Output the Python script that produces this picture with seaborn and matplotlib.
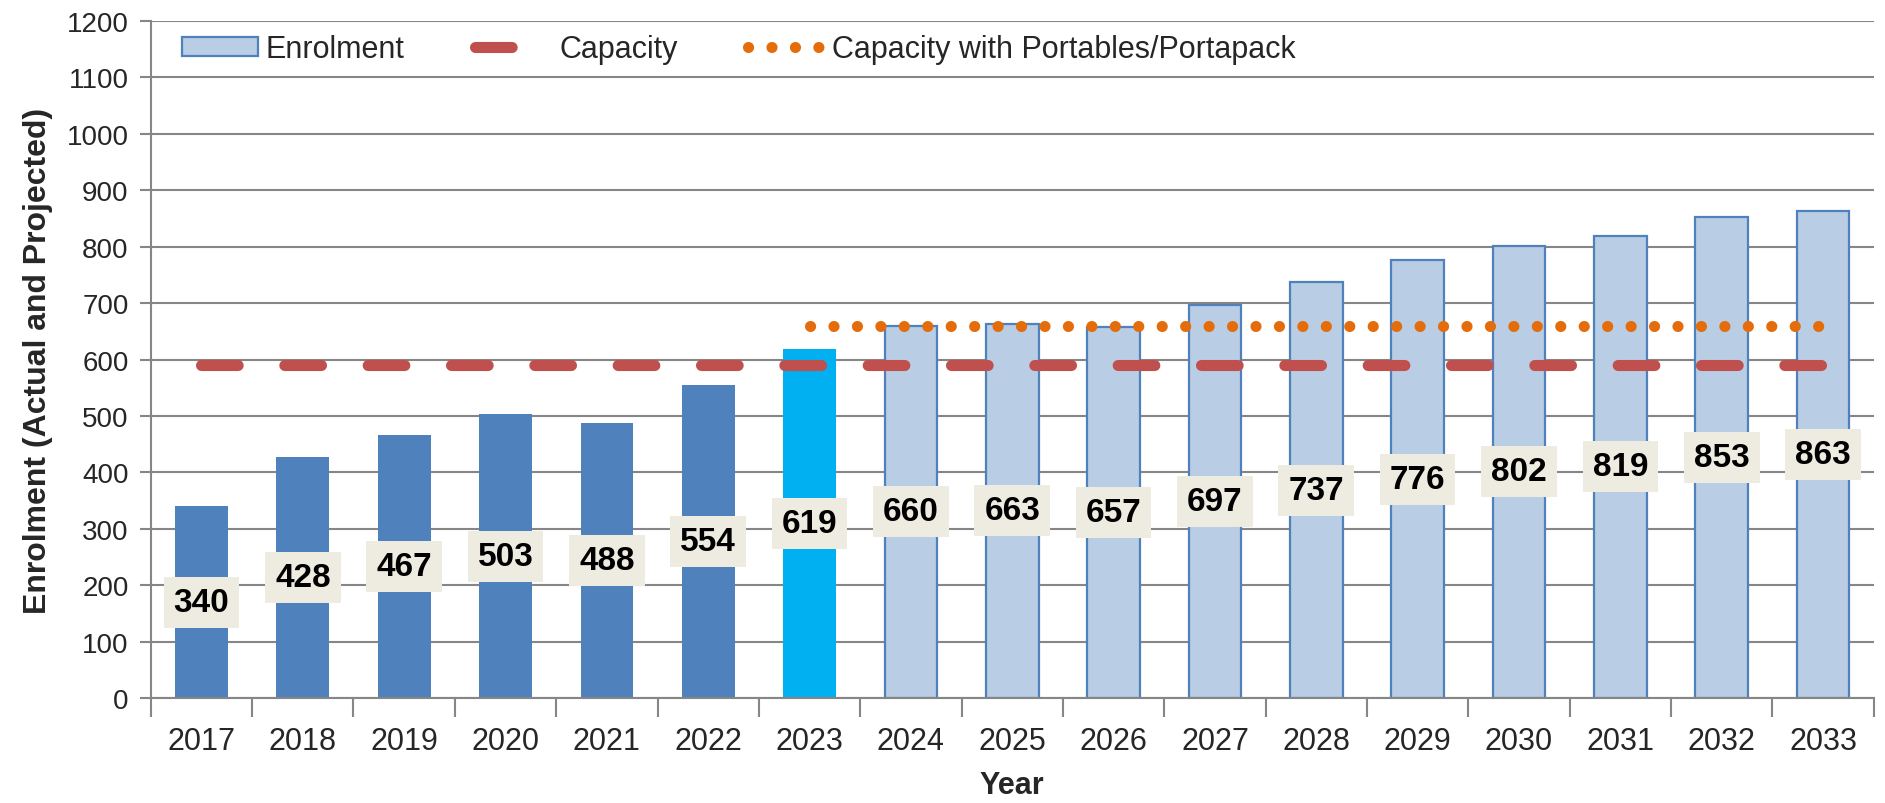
import numpy as np
import pandas as pd
import seaborn as sns
import matplotlib.pyplot as plt
from matplotlib.patches import Patch
from matplotlib.lines import Line2D
from matplotlib.ticker import FixedLocator, MultipleLocator

# Data
years = [str(y) for y in range(2017, 2034)]
enrolment = [340, 428, 467, 503, 488, 554, 619, 660, 663, 657, 697, 737, 776, 802, 819, 853, 863]
status = ["Actual"] * 6 + ["Current"] + ["Projected"] * 10
capacity = [590] * 17
portable_years = years[6:]
portable_capacity = [660] * 11

df = pd.DataFrame({"year": years, "enrolment": enrolment, "status": status})

sns.set_theme(style="white")
plt.rcParams['font.family'] = ['Liberation Sans', 'DejaVu Sans']

bar_colors = {"Actual": "#4F81BD", "Current": "#00B0F0", "Projected": "#B9CDE5"}
grid_grey = "#868686"

fig, ax = plt.subplots(figsize=(18.85, 8.04), dpi=100)
fig.subplots_adjust(left=0.080, right=0.994, bottom=0.1306, top=0.9726)

sns.barplot(data=df, x="year", y="enrolment", hue="status", palette=bar_colors,
            dodge=False, width=0.52, saturation=1, legend=False, ax=ax, zorder=2)

# outline only on the projected bars
for container, level in zip(ax.containers, ["Actual", "Current", "Projected"]):
    for bar in container:
        if level == "Projected":
            bar.set_edgecolor("#4F81BD")
            bar.set_linewidth(1.6)
        else:
            bar.set_edgecolor(bar_colors[level])
            bar.set_linewidth(0)

# value labels in beige boxes
for container in ax.containers:
    ax.bar_label(container, label_type="center", fontsize=24, fontweight="bold",
                 color="black", zorder=5,
                 bbox=dict(boxstyle="square,pad=0.3", fc="#EEECE1", ec="none"))

# capacity lines
sns.lineplot(x=years, y=capacity, color="#C0504D", lw=8, ax=ax,
             linestyle=(0, (3.3, 4.2)), dash_capstyle="round", zorder=3)
sns.lineplot(x=portable_years, y=portable_capacity, color="#E46C0A", lw=8, ax=ax,
             linestyle=(0, (0.01, 2.1)), dash_capstyle="round", zorder=3)

ax.set_ylim(0, 1200)
ax.set_xlim(-0.5, len(years) - 0.5)
ax.yaxis.set_major_locator(MultipleLocator(100))
ax.yaxis.grid(True, color=grid_grey, lw=1.5)
ax.set_axisbelow(True)

for side in ["top", "right"]:
    ax.spines[side].set_visible(False)
for side in ["left", "bottom"]:
    ax.spines[side].set_color(grid_grey)
    ax.spines[side].set_linewidth(1.5)

ax.tick_params(axis="y", left=True, length=8, width=1.5, color=grid_grey,
               pad=8, labelsize=20)
ax.tick_params(axis="x", bottom=False, labelsize=22, pad=14)
ax.xaxis.set_minor_locator(FixedLocator(np.arange(-0.5, len(years))))
ax.tick_params(axis="x", which="minor", bottom=True, length=14, width=1.5, color=grid_grey)

ax.set_xlabel("Year", fontsize=22, fontweight="bold", labelpad=10)
ax.set_ylabel("Enrolment (Actual and Projected)", fontsize=23, fontweight="bold", labelpad=10)

handles = [
    Patch(facecolor="#B9CDE5", edgecolor="#4F81BD", lw=1.6),
    Line2D([], [], color="#C0504D", lw=8, linestyle=(0, (3.3, 6)), dash_capstyle="round"),
    Line2D([], [], color="#E46C0A", lw=8, linestyle=(0, (0.01, 2.1)), dash_capstyle="round"),
]
labels = ["Enrolment", "Capacity", "Capacity with Portables/Portapack"]
ax.legend(handles, labels, loc="center left", bbox_to_anchor=(0.018, 0.958), ncol=3,
          frameon=False, fontsize=22, handlelength=2.5, handleheight=0.6,
          handletextpad=0.25, columnspacing=2.3, borderpad=0, borderaxespad=0)

fig.savefig("out.png", dpi=100)
